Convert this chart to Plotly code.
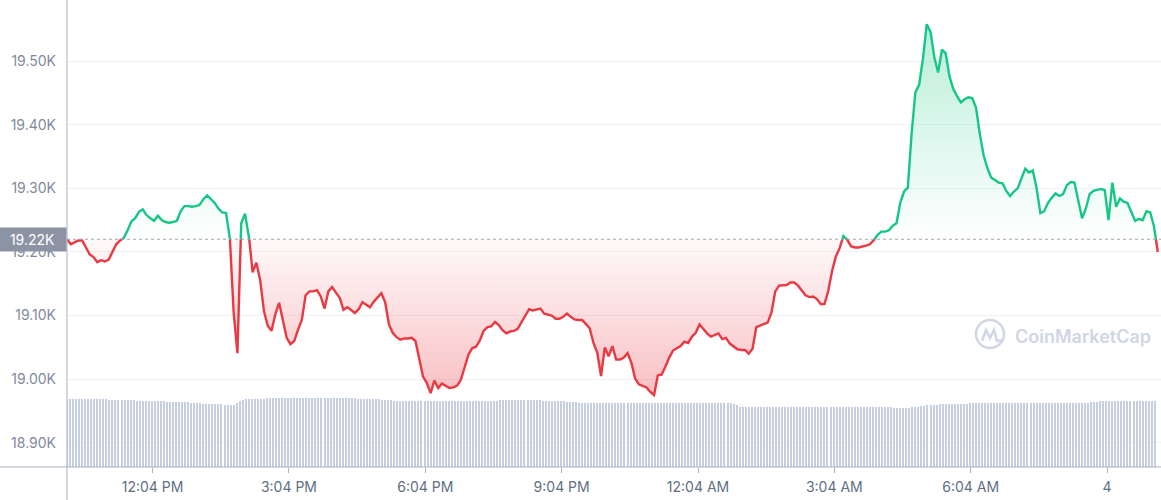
"""
Gráfico de preço 24h (estilo CoinMarketCap) com volume ao fundo.
"""
import pandas as pd
import plotly.graph_objects as go

# Dados
START = "2022-10-03 10:11"

# preço (USD), um ponto a cada 5 minutos
PRICE = [
    19220, 19212, 19215, 19218, 19218, 19208, 19196, 19192, 19184, 19187, 19185, 19188,
    19200, 19212, 19218, 19222, 19234, 19248, 19253, 19263, 19267, 19258, 19253, 19249,
    19257, 19250, 19247, 19246, 19247, 19249, 19264, 19272, 19272, 19271, 19272, 19274,
    19283, 19289, 19283, 19277, 19268, 19262, 19261, 19222, 19105, 19041, 19245, 19260,
    19227, 19168, 19183, 19156, 19107, 19084, 19076, 19102, 19120, 19093, 19065, 19055,
    19060, 19078, 19093, 19132, 19138, 19138, 19140, 19130, 19111, 19138, 19145, 19136,
    19128, 19109, 19113, 19109, 19104, 19110, 19121, 19117, 19113, 19122, 19128, 19135,
    19121, 19086, 19073, 19066, 19062, 19064, 19064, 19065, 19060, 19031, 19004, 18994,
    18978, 18998, 18986, 18993, 18989, 18986, 18987, 18990, 18999, 19020, 19039, 19049,
    19051, 19061, 19076, 19082, 19083, 19090, 19085, 19077, 19072, 19075, 19076, 19079,
    19089, 19101, 19110, 19108, 19109, 19111, 19103, 19101, 19100, 19095, 19095, 19098,
    19103, 19098, 19094, 19093, 19093, 19087, 19080, 19057, 19042, 19005, 19050, 19036,
    19052, 19031, 19031, 19034, 19041, 19026, 19001, 18992, 18990, 18987, 18980, 18975,
    19006, 19007, 19020, 19034, 19045, 19049, 19052, 19059, 19057, 19067, 19073, 19086,
    19079, 19072, 19067, 19070, 19072, 19063, 19065, 19056, 19051, 19047, 19046, 19046,
    19040, 19048, 19082, 19084, 19086, 19089, 19105, 19138, 19147, 19148, 19148, 19152,
    19152, 19147, 19139, 19132, 19129, 19130, 19126, 19118, 19118, 19139, 19170, 19193,
    19206, 19225, 19219, 19209, 19207, 19207, 19208, 19210, 19212, 19218, 19227, 19232,
    19232, 19234, 19241, 19245, 19277, 19295, 19301, 19386, 19451, 19463, 19504, 19558,
    19546, 19506, 19482, 19518, 19512, 19476, 19456, 19445, 19435, 19440, 19443, 19442,
    19427, 19386, 19352, 19332, 19317, 19313, 19309, 19308, 19296, 19288, 19295, 19300,
    19316, 19331, 19325, 19328, 19300, 19261, 19264, 19277, 19285, 19292, 19288, 19291,
    19305, 19310, 19309, 19279, 19253, 19268, 19291, 19296, 19297, 19299, 19297, 19250,
    19309, 19271, 19284, 19279, 19277, 19262, 19249, 19252, 19250, 19264, 19262, 19240,
    19200,
]

# volume 24h (bilhões USD), uma barra a cada 4 minutos
VOLUME = [
    30.6, 30.6, 30.6, 30.5, 30.6, 30.6, 30.5, 30.5, 30.6, 30.5, 30.5, 30.5, 30.4, 30.4, 30.3,
    30.2, 30.1, 30.1, 30.1, 30.0, 30.0, 30.0, 30.0, 29.9, 29.9, 29.9, 29.8, 29.8,
    29.7, 29.6, 29.6, 29.5, 29.5, 29.4, 29.4, 29.4, 29.3, 29.3, 29.2, 29.2, 29.1, 29.0, 28.9, 28.8,
    28.6, 28.5, 28.4, 28.4, 28.3, 28.3, 28.3, 28.2, 28.1,
    27.9, 27.7, 27.8,
    28.8, 29.8, 30.3,
    30.5, 30.6, 30.7, 30.7, 30.8, 30.8, 30.8, 30.9, 30.9, 30.9,
    30.9, 31.0, 31.0, 31.0, 31.0, 31.0, 31.0, 31.0, 31.0, 31.1,
    31.1, 31.1, 31.1, 31.1, 31.2, 31.1, 31.1, 31.1, 31.1, 31.0,
    31.0, 31.0, 31.0, 31.0, 30.9, 30.9, 30.9, 30.8,
    30.7, 30.6, 30.6, 30.5, 30.5, 30.5, 30.4, 30.3, 30.2, 30.1,
    30.0, 29.9, 29.9, 29.8, 29.8, 29.8, 29.8, 29.8, 29.8, 29.8,
    29.9, 29.9, 29.8, 29.8, 29.8, 29.7, 29.7, 29.8, 29.8, 29.8,
    29.8, 29.9, 29.9, 29.8, 29.8, 29.8, 29.8, 29.8, 29.9, 29.9,
    29.9, 29.9, 29.9, 29.9, 29.9, 29.9,
    30.0, 30.0, 30.0, 30.0, 30.1, 30.1, 30.1, 30.0, 30.0, 30.0,
    30.0, 30.0, 30.0, 30.0, 29.9, 29.9, 29.9, 29.9, 29.8, 29.7,
    29.6, 29.5, 29.4, 29.3, 29.2,
    29.1, 29.0, 29.0, 28.9, 28.9, 28.9, 28.9, 28.9, 28.9, 28.9,
    28.9, 28.9, 28.9, 28.8, 28.8, 28.8, 28.8, 28.8, 28.8, 28.8,
    28.8, 28.8, 28.8, 28.8, 28.8, 28.8, 28.8, 28.8, 28.9, 28.9,
    28.9, 28.9, 28.9, 28.9, 28.9, 28.9, 28.9, 28.9, 28.9, 28.9,
    28.9, 28.9, 28.9, 28.9, 28.9, 28.9, 28.8, 28.8, 28.8, 28.8,
    28.8, 28.7, 28.5, 28.1,
    27.2, 27.1, 27.1, 27.1, 27.1, 27.1, 27.1, 27.1, 27.1, 27.1,
    27.1, 27.1, 27.1, 27.1, 27.1, 27.1, 27.1, 27.1, 27.1, 27.1,
    27.1, 27.1, 27.1, 27.1, 27.1, 27.1, 27.1, 27.0, 27.0, 27.0,
    27.0, 27.0, 27.0, 27.0, 27.0, 27.0, 27.0, 27.0, 27.0, 27.0,
    27.0, 27.0, 27.0, 27.0, 27.0, 26.9, 26.9, 26.9, 26.9, 26.8,
    26.8, 26.7, 26.7,
    26.6, 26.5, 26.5, 26.6,
    26.9, 27.0, 27.1, 27.3, 27.5, 27.8,
    27.9, 28.0, 28.1, 28.2, 28.3, 28.4, 28.4,
    28.5, 28.5, 28.5, 28.5, 28.5, 28.5, 28.6, 28.6, 28.6, 28.6, 28.6, 28.6, 28.6, 28.6, 28.6, 28.6,
    28.8, 28.8, 28.8, 28.8, 28.8, 28.8, 28.8, 28.8, 28.8, 28.8,
    28.9, 28.9, 28.9, 28.9, 28.9, 28.9, 28.9, 28.9, 28.9, 28.9,
    28.9, 28.9, 28.9, 29.0, 29.0, 29.0, 29.0, 29.0, 29.0, 29.0,
    29.1, 29.2, 29.4,
    29.5, 29.5, 29.5, 29.5, 29.5, 29.5, 29.5, 29.5, 29.5, 29.5,
    29.5, 29.5, 29.5, 29.5, 29.5, 29.5, 29.5, 29.5, 29.5,
]

X_TICKS = ["2022-10-03 12:04", "2022-10-03 15:04", "2022-10-03 18:04", "2022-10-03 21:04",
           "2022-10-04 00:04", "2022-10-04 03:04", "2022-10-04 06:04", "2022-10-04 09:04"]
X_TICK_TEXT = ["12:04 PM", "3:04 PM", "6:04 PM", "9:04 PM", "12:04 AM", "3:04 AM", "6:04 AM", "4"]
Y_TICKS = [18900, 19000, 19100, 19200, 19300, 19400, 19500]

# Paleta
GREEN = '#16c784'
RED = '#ea3943'
AXIS = '#a9b1c1'
GRID = '#eff2f5'
MUTED = '#cfd6e4'

W, H = 1161, 500
M_L, M_R, M_T, M_B = 67, 0, 0, 33
PW, PH = W - M_L - M_R, H - M_T - M_B


def split_at_base(times, values, base):
    """Insere os pontos de cruzamento com a linha de base."""
    xs, ys = [times[0]], [values[0]]
    for i in range(1, len(values)):
        a, b = values[i - 1], values[i]
        if (a - base) * (b - base) < 0:
            f = (base - a) / (b - a)
            xs.append(times[i - 1] + (times[i] - times[i - 1]) * f)
            ys.append(base)
        xs.append(times[i])
        ys.append(b)
    return xs, ys


def px(x, y):
    """Pixel da página -> coordenadas paper (só para a marca d'água)."""
    return (x - M_L) / PW, (H - M_B - y) / PH


price_times = pd.date_range(START, periods=len(PRICE), freq="5min")
vol_times = pd.date_range(START, periods=len(VOLUME), freq="4min")
base = PRICE[0]

xs, ys = split_at_base(list(price_times), PRICE, base)
up_line = [y if y >= base else None for y in ys]
dn_line = [y if y <= base else None for y in ys]
up_fill = [max(y, base) for y in ys]
dn_fill = [min(y, base) for y in ys]

fig = go.Figure()

fig.add_trace(go.Scatter(x=xs, y=[base] * len(xs), mode='lines', line_width=0,
                         hoverinfo='skip'))
fig.add_trace(go.Scatter(
    x=xs, y=up_fill, mode='lines', line_width=0, fill='tonexty', hoverinfo='skip',
    fillgradient=dict(type='vertical', start=base, stop=max(PRICE),
                      colorscale=[[0, 'rgba(22,199,132,0)'], [1, 'rgba(22,199,132,0.30)']])
))
fig.add_trace(go.Scatter(x=xs, y=[base] * len(xs), mode='lines', line_width=0,
                         hoverinfo='skip'))
fig.add_trace(go.Scatter(
    x=xs, y=dn_fill, mode='lines', line_width=0, fill='tonexty', hoverinfo='skip',
    fillgradient=dict(type='vertical', start=min(PRICE), stop=base,
                      colorscale=[[0, 'rgba(234,57,67,0.32)'], [1, 'rgba(234,57,67,0.03)']])
))
fig.add_trace(go.Scatter(x=xs, y=up_line, mode='lines', connectgaps=False,
                         line=dict(color=GREEN, width=2.4)))
fig.add_trace(go.Scatter(x=xs, y=dn_line, mode='lines', connectgaps=False,
                         line=dict(color=RED, width=2.4)))

# Volume (eixo secundário escondido)
fig.add_trace(go.Bar(x=vol_times, y=VOLUME, yaxis='y2', width=85000,
                     marker=dict(color='#c6cfe1', line_width=0)))

x_end = pd.Timestamp(START) + pd.Timedelta(hours=PW / 45.45)

fig.update_layout(
    width=W, height=H,
    margin=dict(l=M_L, r=M_R, t=M_T, b=M_B),
    paper_bgcolor='white', plot_bgcolor='white',
    showlegend=False, hovermode=False, bargap=0,
    font=dict(family='Inter, Roboto, sans-serif', size=14, color='#808a9d'),
    xaxis=dict(
        type='date', range=[pd.Timestamp(START), x_end],
        tickvals=X_TICKS, ticktext=X_TICK_TEXT,
        showgrid=False, zeroline=False, showline=False,
        ticks='outside', ticklen=5, tickcolor=AXIS, tickwidth=1,
        ticklabelstandoff=2,
        tickfont=dict(size=14, color='#616e85'),
    ),
    yaxis=dict(
        range=[18862, 19596],
        tickvals=Y_TICKS, ticktext=[f"{v / 1000:.2f}K" for v in Y_TICKS],
        showgrid=True, gridcolor=GRID, gridwidth=1,
        zeroline=False, showline=False, ticks='',
        ticklabelstandoff=10,
        tickfont=dict(size=14, color='#808a9d'),
    ),
    yaxis2=dict(overlaying='y', range=[0, 210], visible=False),
)

# Linhas dos eixos (prolongadas para as margens) e linha de base pontilhada
fig.add_shape(type='line', xref='paper', yref='paper', x0=0, x1=0,
              y0=-M_B / PH, y1=1, line=dict(color=AXIS, width=1))
fig.add_shape(type='line', xref='paper', yref='paper', x0=-M_L / PW, x1=1,
              y0=0, y1=0, line=dict(color=AXIS, width=1))
fig.add_shape(type='line', xref='paper', yref='y', x0=0, x1=1, y0=base, y1=base,
              line=dict(color='#9aa2b1', width=1, dash='dot'))

# Etiqueta do preço de abertura (cobre parcialmente o rótulo 19.20K, como no original)
fig.add_annotation(
    x=0, xref='paper', xanchor='right', y=base, yref='y', yanchor='middle',
    text=f"{base / 1000:.2f}K", showarrow=False,
    bgcolor='#8c93a5', width=63, height=19, borderpad=2,
    font=dict(size=14, color='white', family='Inter, Roboto, sans-serif'),
)

# Marca d'água CoinMarketCap
cx0, cy0 = px(976, 348)
cx1, cy1 = px(1004, 320)
fig.add_shape(type='circle', xref='paper', yref='paper', x0=cx0, y0=cy0, x1=cx1, y1=cy1,
              line=dict(color=MUTED, width=2.5))
pts = [px(982, 341), px(986, 330), px(990, 338), px(994, 330), px(997, 341), px(1003, 340)]
path = 'M ' + ' L '.join(f'{a:.5f},{b:.5f}' for a, b in pts)
fig.add_shape(type='path', xref='paper', yref='paper', path=path,
              line=dict(color=MUTED, width=2.5))
tx, ty = px(1013, 336)
fig.add_annotation(x=tx, y=ty, xref='paper', yref='paper', xanchor='left', yanchor='middle',
                   text='CoinMarketCap', showarrow=False,
                   font=dict(size=18, color=MUTED, family='Inter, Roboto, sans-serif',
                             weight=600))

fig.write_html("out.html", config={'displayModeBar': False},
               post_script="document.body.style.margin='0';")
